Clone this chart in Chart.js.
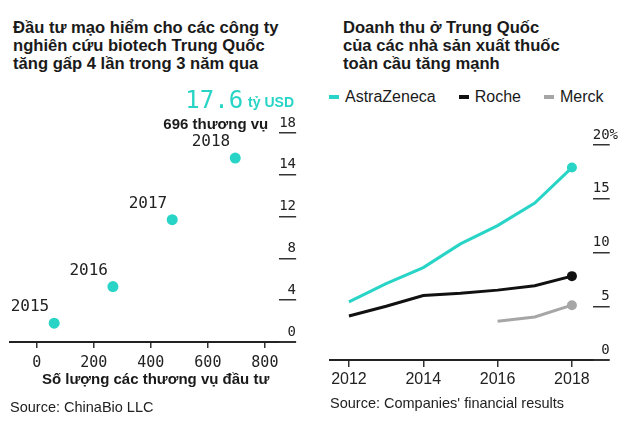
<!DOCTYPE html>
<html>
<head>
<meta charset="utf-8">
<script src="https://cdn.jsdelivr.net/npm/chart.js@4.4.0/dist/chart.umd.min.js"></script>
<style>
  body { margin: 0; background: #fff; width: 630px; height: 422px; position: relative; overflow: hidden;
         font-family: "Liberation Sans", Arial, sans-serif; color: #1a1a1a; }
  .title { position: absolute; top: 19px; font-weight: bold; font-size: 16.6px; line-height: 18px; white-space: nowrap; }
  .source { position: absolute; font-size: 14.5px; white-space: nowrap; color: #222; }
  .axis-title { position: absolute; left: 42px; top: 370px; font-weight: bold; font-size: 15px; white-space: nowrap; }
  #legend { position: absolute; left: 329px; top: 88px; display: flex; font-size: 16px; line-height: 18px; }
  #legend .item { display: flex; align-items: center; margin-right: 23px; }
  #legend .dash { width: 10px; height: 4px; margin-right: 6px; }
  canvas { position: absolute; top: 80px; }
</style>
</head>
<body>
<div class="title" style="left:13px">Đầu tư mạo hiểm cho các công ty<br>nghiên cứu biotech Trung Quốc<br>tăng gấp 4 lần trong 3 năm qua</div>
<div class="title" style="left:343px">Doanh thu ở Trung Quốc<br>của các nhà sản xuất thuốc<br>toàn cầu tăng mạnh</div>
<div id="legend"></div>
<canvas id="dealChart" width="315" height="322" style="left:0"></canvas>
<canvas id="revChart" width="315" height="322" style="left:315px"></canvas>
<div class="axis-title">Số lượng các thương vụ đầu tư</div>
<div class="source" style="left:10px; top:399px">Source: ChinaBio LLC</div>
<div class="source" style="left:330px; top:395px">Source: Companies' financial results</div>
<script>
// left chart: venture deals
const dealYears = ['2015', '2016', '2017', '2018'];
const dealCounts = [61, 267, 475, 696];
const dealValues = [1.8, 5.3, 11.7, 17.6];
const dealXTicks = [0, 200, 400, 600, 800];
const dealYTicks = [0, 4, 8, 12, 16, 20];
const dealYLabels = ['0', '4', '8', '12', '14', '18'];

// right chart: China revenue share
const revYears = [2012, 2013, 2014, 2015, 2016, 2017, 2018];
const astra = [5.4, 7.1, 8.6, 10.8, 12.5, 14.6, 17.9];
const roche = [4.1, 5.0, 6.0, 6.2, 6.5, 6.9, 7.8];
const merck = [null, null, null, null, 3.6, 4.0, 5.1];
const revNames = ['AstraZeneca', 'Roche', 'Merck'];
const revColors = ['#27d4c6', '#111111', '#a6a6a6'];
const revXTicks = [2012, 2014, 2016, 2018];
const revYTicks = [0, 5, 10, 15, 20];
const revYLabels = ['0 ', '5 ', '10 ', '15 ', '20%'];

const TEAL = '#27d4c6';
const MONO = '"DejaVu Sans Mono", monospace';
const SANS = '"Liberation Sans", Arial, sans-serif';

const dealLabels = {
  id: 'dealLabels',
  afterDatasetsDraw(chart) {
    const { ctx } = chart;
    const pts = chart.getDatasetMeta(0).data;
    ctx.save();
    ctx.textBaseline = 'middle';
    ctx.textAlign = 'right';
    ctx.fillStyle = '#222';
    ctx.font = '16px ' + MONO;
    pts.forEach((p, i) => ctx.fillText(dealYears[i], p.x - 5, p.y - 16));
    const last = pts.length - 1;
    const yr = chart.scales.y.right - 2;
    ctx.font = 'bold 14px ' + SANS;
    ctx.fillStyle = TEAL;
    ctx.fillText('tỷ USD', yr, 23);
    const w = ctx.measureText('tỷ USD').width;
    ctx.font = '24px ' + MONO;
    ctx.fillText(dealValues[last].toFixed(1), yr - w - 5, 22);
    ctx.font = 'bold 15px ' + SANS;
    ctx.fillStyle = '#1a1a1a';
    ctx.fillText(dealCounts[last] + ' thương vụ', pts[last].x + 33, pts[last].y - 33);
    ctx.restore();
  }
};

new Chart(document.getElementById('dealChart'), {
  type: 'scatter',
  data: {
    datasets: [{
      data: dealCounts.map((c, i) => ({ x: c, y: dealValues[i] })),
      backgroundColor: TEAL, borderWidth: 0, pointRadius: 5.5, pointHoverRadius: 5.5
    }]
  },
  options: {
    responsive: false, animation: false, devicePixelRatio: 1,
    layout: { padding: { left: 10, right: 19, top: 53, bottom: 24 } },
    plugins: { legend: { display: false }, tooltip: { enabled: false } },
    scales: {
      x: {
        type: 'linear', min: -94, max: 850,
        afterBuildTicks: s => { s.ticks = dealXTicks.map(v => ({ value: v })); },
        grid: { drawOnChartArea: false, tickLength: 6, color: '#333', lineWidth: 1.5 },
        border: { display: true, color: '#222', width: 2 },
        ticks: { font: { family: MONO, size: 15 }, color: '#222', padding: 6, maxRotation: 0, autoSkip: false,
                 callback: v => String(v) }
      },
      y: {
        position: 'right', min: 0, max: 20,
        afterBuildTicks: s => { s.ticks = dealYTicks.map(v => ({ value: v })); },
        grid: { drawOnChartArea: false, tickLength: 17, color: '#333', lineWidth: c => c.index === 0 ? 2 : 1.5 },
        border: { display: false },
        ticks: { font: { family: MONO, size: 14 }, color: '#222', padding: -8.5, crossAlign: 'far', labelOffset: -10,
                 autoSkip: false, callback: (v, i) => dealYLabels[i] }
      }
    }
  },
  plugins: [dealLabels]
});

document.getElementById('legend').innerHTML = revNames.map((n, i) =>
  '<div class="item"><span class="dash" style="background:' + revColors[i] + '"></span>' + n + '</div>').join('');

const lastIdx = revYears.length - 1;
const series = [astra, roche, merck];
new Chart(document.getElementById('revChart'), {
  type: 'line',
  data: {
    datasets: series.map((vals, k) => ({
      label: revNames[k],
      data: revYears.map((yr, i) => ({ x: yr, y: vals[i] })),
      borderColor: revColors[k], backgroundColor: revColors[k], borderWidth: 3,
      pointRadius: c => c.dataIndex === lastIdx ? 5 : 0, pointHoverRadius: 0, pointBorderWidth: 0,
      tension: 0, spanGaps: false, clip: false
    }))
  },
  options: {
    responsive: false, animation: false, devicePixelRatio: 1,
    layout: { padding: { left: 15, right: 12, top: 65, bottom: 9 } },
    plugins: { legend: { display: false }, tooltip: { enabled: false } },
    scales: {
      x: {
        type: 'linear', min: 2011.49, max: 2018.56,
        afterBuildTicks: s => { s.ticks = revXTicks.map(v => ({ value: v })); },
        grid: { drawOnChartArea: false, tickLength: 7, color: '#333', lineWidth: 1.5 },
        border: { display: true, color: '#222', width: 2 },
        ticks: { font: { family: SANS, size: 16 }, color: '#222', padding: 3.4, maxRotation: 0, autoSkip: false,
                 callback: v => String(v) }
      },
      y: {
        position: 'right', min: 0, max: 20,
        afterBuildTicks: s => { s.ticks = revYTicks.map(v => ({ value: v })); },
        grid: { drawOnChartArea: false, tickLength: 17, color: '#333', lineWidth: c => c.index === 0 ? 2 : 1.5 },
        border: { display: false },
        ticks: { font: { family: MONO, size: 14 }, color: '#222', padding: -8.5, crossAlign: 'far', labelOffset: -10,
                 autoSkip: false, callback: (v, i) => revYLabels[i] }
      }
    }
  }
});
</script>
</body>
</html>
